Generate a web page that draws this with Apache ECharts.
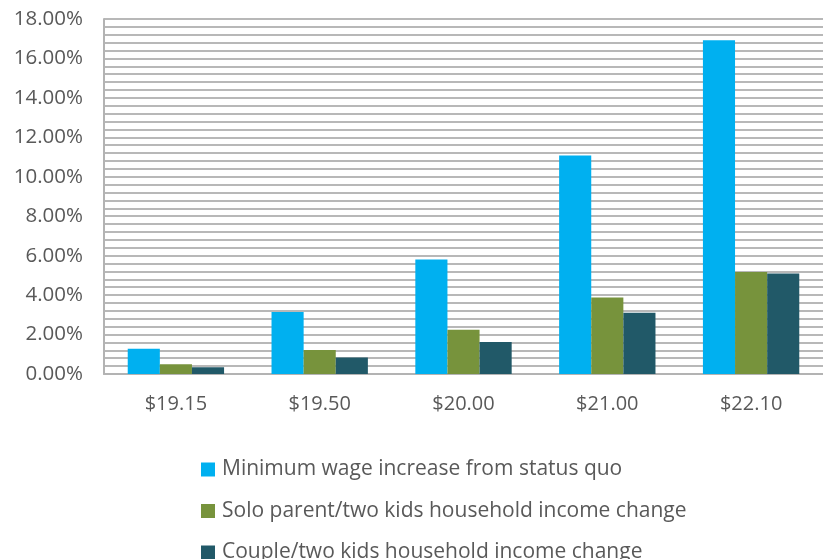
<!DOCTYPE html>
<html>
<head>
<meta charset="utf-8">
<script src="https://cdn.jsdelivr.net/npm/echarts@6/dist/echarts.min.js"></script>
<style>
  html, body { margin: 0; padding: 0; background: #fff; }
  #chart { width: 823px; height: 559px; }
</style>
</head>
<body>
<div id="chart"></div>
<script>
// Wage scenarios on the x axis
const categories = ['$19.15', '$19.50', '$20.00', '$21.00', '$22.10'];

// Percentage changes per scenario
const minWageIncrease = [1.28, 3.14, 5.80, 11.08, 16.92];
const soloParentChange = [0.49, 1.22, 2.25, 3.88, 5.17];
const coupleChange = [0.34, 0.84, 1.62, 3.11, 5.09];

const seriesNames = [
  'Minimum wage increase from status quo',
  'Solo parent/two kids household income change',
  'Couple/two kids household income change'
];
const seriesColors = ['#00B0F0', '#77933C', '#215968'];
const seriesValues = [minWageIncrease, soloParentChange, coupleChange];

const font = '"Open Sans", "Noto Sans", sans-serif';
const textColor = '#595959';

const chart = echarts.init(document.getElementById('chart'), null, { renderer: 'canvas' });

chart.setOption({
  animation: false,
  backgroundColor: '#ffffff',
  grid: { left: 104, top: 19, width: 721, height: 355, containLabel: false },
  legend: {
    orient: 'vertical',
    left: 201,
    top: 459,
    padding: 0,
    height: 200,
    icon: 'rect',
    itemWidth: 14,
    itemHeight: 14,
    itemGap: 20.5,
    textStyle: { fontFamily: font, fontSize: 21, color: textColor, lineHeight: 20, padding: [0, 0, 0, 2] },
    data: seriesNames
  },
  xAxis: {
    type: 'category',
    data: categories,
    axisLine: { lineStyle: { color: '#b3b3b3', width: 2 } },
    axisTick: { show: false },
    axisLabel: { fontFamily: font, fontSize: 20, color: textColor, margin: 20 }
  },
  yAxis: {
    type: 'value',
    min: 0,
    max: 18,
    interval: 2,
    axisLine: { show: true, lineStyle: { color: '#b3b3b3', width: 2 } },
    axisTick: { show: false },
    axisLabel: {
      fontFamily: font, fontSize: 20.5, color: textColor, margin: 21,
      formatter: v => v.toFixed(2) + '%'
    },
    splitLine: { show: true, lineStyle: { color: '#b8b8b8', width: 2 } },
    minorTick: { show: false, splitNumber: 5 },
    minorSplitLine: { show: true, lineStyle: { color: '#b8b8b8', width: 2 } }
  },
  series: seriesValues.map((vals, i) => ({
    name: seriesNames[i],
    type: 'bar',
    data: vals,
    barGap: '0%',
    barCategoryGap: '33%',
    itemStyle: { color: seriesColors[i] }
  }))
});
</script>
</body>
</html>
